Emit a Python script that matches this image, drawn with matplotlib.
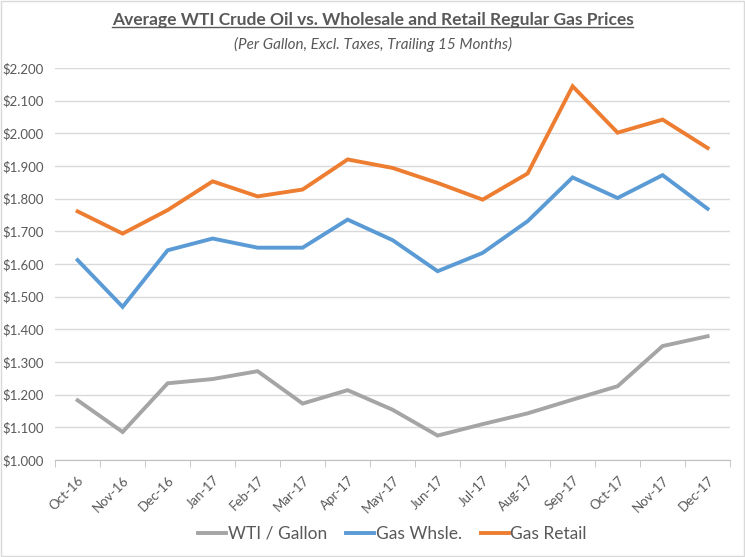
import matplotlib.pyplot as plt
import matplotlib.patches as mpatches
import numpy as np

plt.rcParams["font.family"] = ["Lato", "DejaVu Sans"]

months = ["Oct-16", "Nov-16", "Dec-16", "Jan-17", "Feb-17", "Mar-17", "Apr-17", "May-17",
          "Jun-17", "Jul-17", "Aug-17", "Sep-17", "Oct-17", "Nov-17", "Dec-17"]
wti = [1.183, 1.086, 1.235, 1.248, 1.272, 1.173, 1.214, 1.154,
       1.075, 1.110, 1.143, 1.185, 1.226, 1.349, 1.379]
whsle = [1.612, 1.469, 1.642, 1.678, 1.650, 1.650, 1.736, 1.673,
         1.578, 1.634, 1.731, 1.865, 1.802, 1.872, 1.769]
retail = [1.761, 1.693, 1.765, 1.853, 1.807, 1.828, 1.920, 1.894,
          1.848, 1.797, 1.877, 2.144, 2.002, 2.042, 1.955]

txt = "#595959"
fig = plt.figure(figsize=(7.45, 5.57), dpi=100)
ax = fig.add_axes([0.074, 0.174, 0.906, 0.704])

x = np.arange(len(months))
ax.plot(x, wti, color="#a5a5a5", lw=2.8, label="WTI / Gallon", solid_joinstyle="miter")
ax.plot(x, whsle, color="#5b9bd5", lw=2.8, label="Gas Whsle.", solid_joinstyle="miter")
ax.plot(x, retail, color="#ed7d31", lw=2.8, label="Gas Retail", solid_joinstyle="miter")

ax.set_xlim(-0.5, len(months) - 0.5)
ax.set_ylim(1.0, 2.2)
ax.set_yticks(np.arange(1.0, 2.21, 0.1))
ax.set_yticklabels(["${:.3f}".format(v) for v in np.arange(1.0, 2.21, 0.1)], color=txt, fontsize=9.5)
ax.set_xticks(x)
ax.set_xticklabels(months, rotation=45, ha="right", rotation_mode="anchor", color=txt, fontsize=9.5)
ax.set_xticks(np.arange(-0.5, len(months), 1), minor=True)
ax.tick_params(axis="x", which="major", length=0, pad=10)
ax.tick_params(axis="x", which="minor", length=5, color="#bfbfbf")
ax.tick_params(axis="y", length=0, pad=8)
ax.grid(axis="y", color="#d9d9d9", lw=1)
ax.set_axisbelow(True)
for s in ["top", "right", "left"]:
    ax.spines[s].set_visible(False)
ax.spines["bottom"].set_color("#bfbfbf")

leg = ax.legend(loc="center", bbox_to_anchor=(0.5, -0.188), ncol=3, frameon=False,
                fontsize=12.5, handlelength=1.6, handletextpad=0.1, columnspacing=1.1)
for t in leg.get_texts():
    t.set_color(txt)

title = fig.text(0.5, 0.964, "Average WTI Crude Oil vs. Wholesale and Retail Regular Gas Prices",
                 ha="center", va="center", fontsize=12.5, fontweight="bold", color=txt)
fig.text(0.5, 0.921, "(Per Gallon, Excl. Taxes, Trailing 15 Months)",
         ha="center", va="center", fontsize=11, style="italic", color=txt)

# underline under the title
fig.canvas.draw()
bb = title.get_window_extent().transformed(fig.transFigure.inverted())
fig.add_artist(plt.Line2D([bb.x0, bb.x1], [bb.y0 + 0.001, bb.y0 + 0.001], color=txt, lw=1,
                          transform=fig.transFigure))

fig.add_artist(mpatches.Rectangle((0.001, 0.001), 0.997, 0.997, transform=fig.transFigure,
                                  fill=False, edgecolor="#d9d9d9", lw=1))

fig.savefig("out.png", dpi=100)
